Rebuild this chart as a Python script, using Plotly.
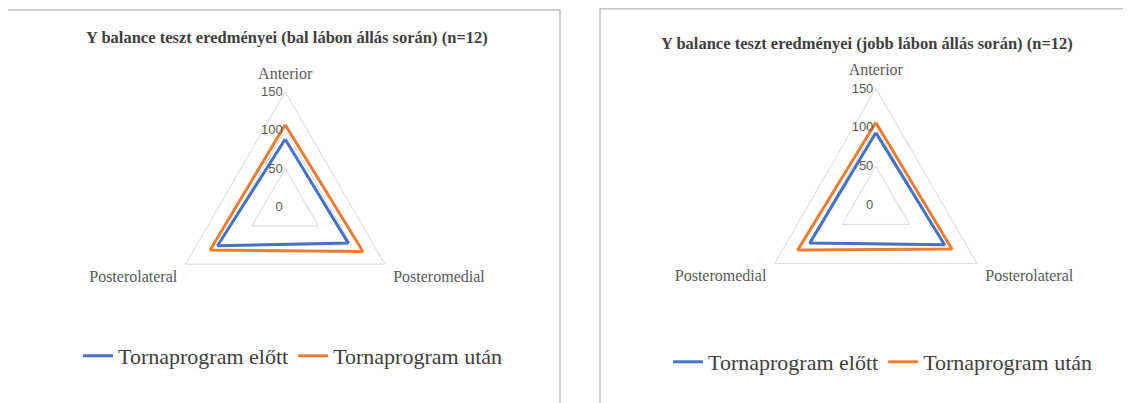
import plotly.graph_objects as go

# bal láb
cats_left = ["Anterior", "Posteromedial", "Posterolateral"]
elott_left = [88, 95, 102]
utan_left = [107, 117, 113]

# jobb láb
cats_right = ["Anterior", "Posterolateral", "Posteromedial"]
elott_right = [93, 102, 98]
utan_right = [106, 113, 116]

series_names = ["Tornaprogram előtt", "Tornaprogram után"]
colors = ["#4472C4", "#ED7D31"]
radial_ticks = [0, 50, 100, 150]

W, H = 1131, 403
OFF = 8  # body margin of the page

fig = go.Figure()

def add_series(cats, vals, name, color, subplot, legend):
    fig.add_trace(go.Scatterpolar(
        r=vals + vals[:1], theta=cats + cats[:1], mode="lines",
        name=name, line=dict(color=color, width=3),
        subplot=subplot, legend=legend))

for i, name in enumerate(series_names):
    add_series(cats_left, [elott_left, utan_left][i], name, colors[i], "polar", "legend")
    add_series(cats_right, [elott_right, utan_right][i], name, colors[i], "polar2", "legend2")

def px(x):
    return (x - OFF) / W

def py(y):
    return 1 - (y - OFF) / H

def polar_layout(cx, cy, rad, cats):
    return dict(
        domain=dict(x=[px(cx - rad), px(cx + rad)], y=[py(cy + rad), py(cy - rad)]),
        gridshape="linear",
        bgcolor="white",
        angularaxis=dict(direction="clockwise", rotation=90,
                         categoryorder="array", categoryarray=cats,
                         showgrid=False, linecolor="#d9d9d9", linewidth=1,
                         ticks="outside", ticklen=6, tickcolor="rgba(0,0,0,0)",
                         tickfont=dict(family="Liberation Serif", size=16, color="#595959")),
        radialaxis=dict(range=[0, 150], tickvals=radial_ticks, angle=90, tickangle=90,
                        side="counterclockwise", showline=False, ticks="",
                        gridcolor="#d9d9d9", gridwidth=1,
                        tickfont=dict(family="Liberation Sans", size=13, color="#595959")),
    )

leg_font = dict(family="Liberation Serif", size=22, color="#404040")

fig.update_layout(
    width=W, height=H,
    margin=dict(l=0, r=0, t=0, b=0, autoexpand=False),
    paper_bgcolor="white",
    polar=polar_layout(285.2, 206.7, 115, cats_left),
    polar2=polar_layout(875.8, 205, 116.7, cats_right),
    legend=dict(orientation="h", x=px(293), xanchor="center", y=py(356), yanchor="middle",
                font=leg_font, bgcolor="rgba(0,0,0,0)"),
    legend2=dict(orientation="h", x=px(883), xanchor="center", y=py(362), yanchor="middle",
                 font=leg_font, bgcolor="rgba(0,0,0,0)"),
    shapes=[
        dict(type="rect", xref="paper", yref="paper", x0=px(7), x1=px(560),
             y0=py(430), y1=py(10), line=dict(color="#c4c4c4", width=1.5)),
        dict(type="rect", xref="paper", yref="paper", x0=px(600), x1=px(1150),
             y0=py(430), y1=py(8.8), line=dict(color="#c4c4c4", width=1.5)),
    ],
    annotations=[
        dict(text="<b>Y balance teszt eredményei (bal lábon állás során) (n=12)</b>",
             x=px(287), y=py(37), xref="paper", yref="paper", showarrow=False,
             xanchor="center", yanchor="middle",
             font=dict(family="Liberation Serif", size=16.5, color="#404040")),
        dict(text="<b>Y balance teszt eredményei (jobb lábon állás során) (n=12)</b>",
             x=px(867), y=py(43), xref="paper", yref="paper", showarrow=False,
             xanchor="center", yanchor="middle",
             font=dict(family="Liberation Serif", size=16.5, color="#404040")),
    ],
)

fig.write_html("out.html")
